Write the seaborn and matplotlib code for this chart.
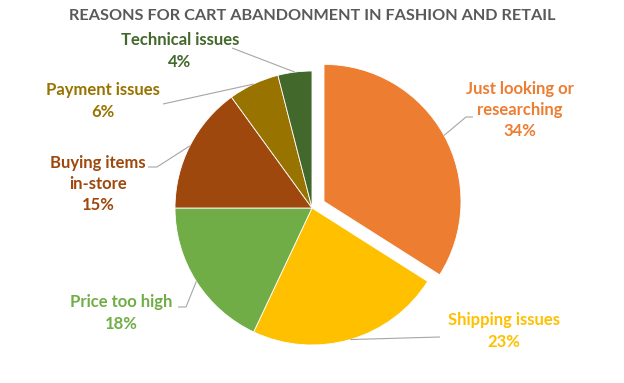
import numpy as np
import seaborn as sns
import matplotlib.pyplot as plt

# data
reasons = ['Just looking or\nresearching', 'Shipping issues', 'Price too high',
           'Buying items\nin-store', 'Payment issues', 'Technical issues']
shares = [34, 23, 18, 15, 6, 4]
colors = ['#ED7D31', '#FFC000', '#70AD47', '#9E480E', '#997300', '#43682B']

sns.set_theme(style='white')
plt.rcParams['font.family'] = ['Lato', 'DejaVu Sans']

W, H = 624, 383
fig = plt.figure(figsize=(W / 100, H / 100), dpi=100)
ax = fig.add_axes([0, 0, 1, 1])

cx, cy, r = 312, H - 208, 137
wedges, _ = ax.pie(shares, colors=colors, startangle=90, counterclock=False,
                   explode=[0.1 * r, 0, 0, 0, 0, 0], center=(cx, cy), radius=r,
                   wedgeprops=dict(edgecolor='white', linewidth=0.6))
ax.set_xlim(0, W)
ax.set_ylim(0, H)
ax.set_aspect('equal')
ax.axis('off')

# label layout (pixel coords, y from top): text centre, elbow of leader line
label_pos = [(520, 110), (504, 331), (121, 313), (98, 184), (103, 101), (180, 51)]
line_start = [(473, 117), (440, 337), (178, 307), (148, 167), (163, 104), (232, 48)]
line_elbow = [(466, 117), (440, 337), (186, 307), (157, 167), (163, 104), (232, 48)]

for i, w in enumerate(wedges):
    mid = np.deg2rad((w.theta1 + w.theta2) / 2)
    wx, wy = w.center
    px = wx + r * np.cos(mid)
    py = wy + r * np.sin(mid)
    sx, sy = line_start[i]
    ex, ey = line_elbow[i]
    ax.plot([sx, ex, px], [H - sy, H - ey, py], color='#A6A6A6', lw=0.8,
            solid_capstyle='butt')
    tx, ty = label_pos[i]
    ax.text(tx, H - ty, f'{reasons[i]}\n{shares[i]}%', ha='center', va='center',
            color=colors[i], fontsize=12, fontweight='bold', linespacing=1.42)

fig.text(0.5, 1 - 16 / H, 'REASONS FOR CART ABANDONMENT IN FASHION AND RETAIL',
         ha='center', va='center', color='#595959', fontsize=11.7, fontweight='bold')

fig.savefig('out.png', dpi=100)
